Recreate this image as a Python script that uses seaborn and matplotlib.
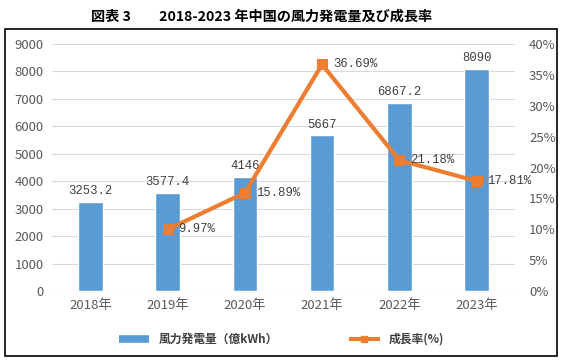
import numpy as np
import pandas as pd
import seaborn as sns
import matplotlib.pyplot as plt
from matplotlib.patches import Rectangle
from matplotlib.lines import Line2D

# data
years = ['2018年', '2019年', '2020年', '2021年', '2022年', '2023年']
power = [3253.2, 3577.4, 4146, 5667, 6867.2, 8090]
power_labels = ['3253.2', '3577.4', '4146', '5667', '6867.2', '8090']
growth = [np.nan, 9.97, 15.89, 36.69, 21.18, 17.81]

blue = '#5B9BD5'
orange = '#ED7D31'
gray = '#595959'

sns.set_style('white')
plt.rcParams['font.family'] = ['Noto Sans CJK JP', 'DejaVu Sans']

df = pd.DataFrame({'year': years, 'power': power, 'growth': growth})
df['pos'] = np.arange(len(df))

fig = plt.figure(figsize=(5.63, 3.61), dpi=100)
ax = fig.add_axes([0.092, 0.194, 0.823, 0.684])

sns.barplot(data=df, x='year', y='power', color=blue, width=0.32,
            saturation=1, ax=ax)
ax.set_ylim(0, 9000)
ax.set_yticks(range(0, 9001, 1000))
ax.set_xlim(-0.5, 5.5)
ax.yaxis.grid(True, color='#D9D9D9', lw=0.8)
ax.set_axisbelow(True)
for s in ax.spines.values():
    s.set_visible(False)
ax.axhline(0, color='#D9D9D9', lw=0.8)
ax.set_xlabel('')
ax.set_ylabel('')
ax.tick_params(axis='both', colors=gray, labelsize=9.5, length=0, pad=6)

for i, (v, t) in enumerate(zip(power, power_labels)):
    ax.text(i, v + 180, t, ha='center', va='bottom', fontsize=8.8,
            color='#404040', family='Liberation Mono')

ax2 = ax.twinx()
sub = df.dropna()
sns.lineplot(data=sub, x='pos', y='growth', color=orange, lw=3,
             marker='s', markersize=7, markeredgecolor=orange, ax=ax2)
ax2.set_ylim(0, 40)
ax2.set_yticks(range(0, 41, 5))
ax2.set_yticklabels([f'{v}%' for v in range(0, 41, 5)])
ax2.set_xlim(-0.5, 5.5)
ax2.set_xlabel('')
ax2.set_ylabel('')
for s in ax2.spines.values():
    s.set_visible(False)
ax2.tick_params(axis='y', colors=gray, labelsize=9.5, length=0, pad=10)

for p, g in zip(sub['pos'], sub['growth']):
    ax2.text(p + 0.14, g, f'{g:.2f}%', ha='left', va='center', fontsize=8.8,
             color='#404040', family='Liberation Mono')

fig.text(0.464, 0.955, '図表 3\u3000\u30002018-2023 年中国の風力発電量及び成長率',
         ha='center', va='center', fontsize=10.2, fontweight='bold',
         color='black')

fig.patches.append(Rectangle((0.009, 0.015), 0.981, 0.904, transform=fig.transFigure,
                             fill=False, ec='black', lw=1.2))

handles = [Line2D([], [], color=blue, lw=5.5, solid_capstyle='butt'),
           Line2D([], [], color=orange, lw=3, marker='s', markersize=5,
                  solid_capstyle='butt')]
fig.legend(handles, ['風力発電量（億kWh）', '成長率(%)'], loc='center',
           bbox_to_anchor=(0.5, 0.06), ncol=2, frameon=False,
           handlelength=2.6, columnspacing=6, labelcolor='#404040',
           prop={'weight': 'bold', 'size': 8.5})

fig.savefig('out.png', dpi=100)
